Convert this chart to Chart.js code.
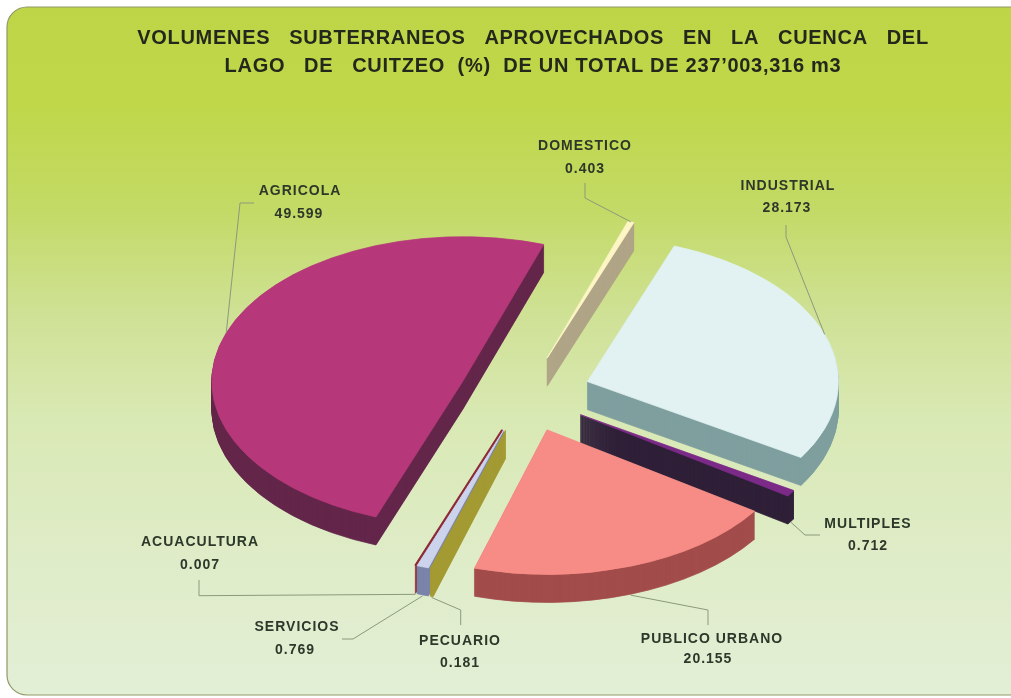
<!DOCTYPE html>
<html>
<head>
<meta charset="utf-8">
<style>html,body{margin:0;padding:0;background:#fff;overflow:hidden}#w{width:1011px;height:698px}</style>
<script src="https://cdn.jsdelivr.net/npm/chart.js@4"></script>
</head>
<body>
<div id="w"><canvas id="c" width="1011" height="698"></canvas></div>
<script>
const categories = ['DOMESTICO','INDUSTRIAL','MULTIPLES','PUBLICO URBANO','PECUARIO','SERVICIOS','ACUACULTURA','AGRICOLA'];
const shares = [0.403,28.173,0.712,20.155,0.181,0.769,0.007,49.599];
const shareLabels = ['0.403','28.173','0.712','20.155','0.181','0.769','0.007','49.599'];
const titleLines = ['VOLUMENES   SUBTERRANEOS   APROVECHADOS   EN   LA   CUENCA   DEL',
                    "LAGO   DE   CUITZEO  (%)  DE UN TOTAL DE 237’003,316 m3"];

const topColors  = ['#fdf6c4','#e2f2f2','#7c2a88','#f78c86','#a39a33','#ccd3ec','#8e2a33','#b6387a'];
const wallColors = ['#b0a587','#7f9f9f','#2f2038','#a24d4b','#a39a33','#7b83a9','#8e2a33','#63264a'];
const borderWidths = [1,1,1,1,1,1,2,1];

const PIE = {cx:525, cy:394, tilt:0.576, depth:28, shift:66, radius:251};
// label placement: [name x, name y, value x, value y]; leader: elbow points; "low" = starts at wall bottom
const labelLayout = [
 {t:[585,146,585,169], path:[[585,198],[585,183]], low:false},
 {t:[788,186,787,208], path:[[786,237],[786,225]], low:false},
 {t:[868,524,868,546], path:[[805,535],[820,535]], low:true},
 {t:[712,639,708,659], path:[[708,610],[708,625]], low:true},
 {t:[460,641,460,663], path:[[460.7,610],[460.7,625]], low:true},
 {t:[297,627,295,650], path:[[353,639],[342,639]], low:true},
 {t:[200,542,200,565], path:[[199,595.7],[199,580]], low:true},
 {t:[300,191,299,214], path:[[240,203],[254,203]], low:false}
];

function applyTilt(ctx, el, dy){
  ctx.translate(PIE.cx, PIE.cy + dy);
  ctx.scale(1, PIE.tilt);
  ctx.translate(-el.x, -el.y);
}
function arcGeom(el){
  const mid = (el.startAngle+el.endAngle)/2;
  return {mid, dx:Math.cos(mid)*PIE.shift, dy:Math.sin(mid)*PIE.shift, r:el.outerRadius};
}
const pie3d = {
  id:'pie3d',
  beforeDraw(chart){
    const ctx = chart.ctx, g = ctx.createLinearGradient(0,0,0,698);
    g.addColorStop(0,'#bdd547'); g.addColorStop(0.15,'#bfd749'); g.addColorStop(0.3,'#c3da66');
    g.addColorStop(0.45,'#cfe195'); g.addColorStop(0.6,'#d9e9b4'); g.addColorStop(0.8,'#dfecc8'); g.addColorStop(1,'#e3efd6');
    ctx.save();
    ctx.beginPath(); ctx.roundRect(7,7,1040,688,20);
    ctx.fillStyle = g; ctx.fill();
    ctx.strokeStyle = '#8f9a68'; ctx.lineWidth = 1.2; ctx.stroke();
    ctx.restore();
    ctx.letterSpacing = '0.72px';
  },
  beforeDatasetDraw(chart,args){
    const ctx = chart.ctx, arcs = args.meta.data;
    // side walls, back to front
    for(let i=arcs.length-1;i>=0;i--){
      const el = arcs[i], a = arcGeom(el);
      ctx.save();
      ctx.fillStyle = wallColors[i]; ctx.strokeStyle = wallColors[i]; ctx.lineWidth = 1;
      for(let d=PIE.depth;d>=1;d--){
        ctx.save();
        applyTilt(ctx, el, d);
        ctx.translate(a.dx,a.dy);
        ctx.beginPath();
        ctx.moveTo(el.x,el.y);
        ctx.arc(el.x,el.y,a.r,el.startAngle,el.endAngle);
        ctx.closePath();
        ctx.fill(); ctx.stroke();
        ctx.restore();
      }
      ctx.restore();
    }
    // top faces: the library's own arc elements, each pulled out and tilted
    arcs.forEach(el=>{
      const a = arcGeom(el);
      ctx.save();
      applyTilt(ctx, el, 0);
      ctx.translate(a.dx,a.dy);
      el.draw(ctx);
      ctx.restore();
    });
    return false;
  },
  afterDraw(chart){
    const ctx = chart.ctx, arcs = chart.getDatasetMeta(0).data;
    ctx.save();
    labelLayout.forEach((l,i)=>{
      const el = arcs[i], a = arcGeom(el);
      const sx = PIE.cx + a.dx + Math.cos(a.mid)*a.r;
      const sy = PIE.cy + (a.dy + Math.sin(a.mid)*a.r)*PIE.tilt + (l.low?PIE.depth+1:0);
      ctx.beginPath(); ctx.moveTo(sx,sy);
      l.path.forEach(p=>ctx.lineTo(p[0],p[1]));
      ctx.strokeStyle='#8b9a7c'; ctx.lineWidth=1; ctx.stroke();
    });
    ctx.fillStyle='#2e382a'; ctx.textAlign='center'; ctx.textBaseline='middle';
    ctx.font='bold 14px "Liberation Sans"'; ctx.letterSpacing='1px';
    labelLayout.forEach((l,i)=>{
      ctx.fillText(categories[i],l.t[0],l.t[1]);
      ctx.fillText(shareLabels[i],l.t[2],l.t[3]);
    });
    ctx.restore();
  }
};

new Chart(document.getElementById('c'),{
  type:'pie',
  data:{labels:categories,datasets:[{
    data:shares, backgroundColor:topColors, borderColor:topColors, borderWidth:borderWidths,
    offset:0
  }]},
  options:{
    responsive:false, animation:false, events:[],
    rotation:18.8, radius:PIE.radius,
    layout:{padding:{left:55}},
    plugins:{
      legend:{display:false}, tooltip:{enabled:false},
      title:{display:true,text:titleLines,color:'#23281c',
        font:{family:'"Liberation Sans"',size:20,weight:'bold',lineHeight:1.4},
        padding:{top:24,bottom:0}}
    }
  },
  plugins:[pie3d]
});
</script>
</body>
</html>
